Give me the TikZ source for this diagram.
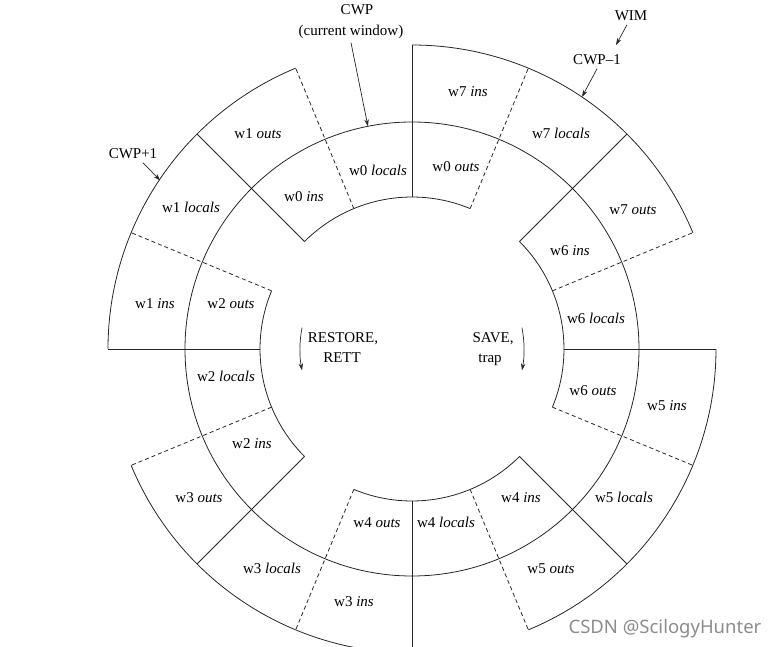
\documentclass[tikz,border=0pt]{standalone}
\usepackage{fontspec}
\setmainfont{Liberation Serif}
\newfontfamily\wmfont{Noto Sans}
\usetikzlibrary{arrows.meta}
\tikzset{
  ring/.style={line width=0.8pt, draw=black!85},
  sep/.style={line width=0.8pt, draw=black!85},
  dsep/.style={line width=0.8pt, draw=black!85, dash pattern=on 4pt off 3pt},
  lbl/.style={anchor=base, inner sep=0pt, font=\fontsize{15}{18}\selectfont},
  tag/.style={anchor=base, font=\fontsize{15}{18}\selectfont},
  arr/.style={line width=0.7pt, draw=black!85, -{Stealth[length=7pt,width=4.5pt]}}
}
\begin{document}
\begin{tikzpicture}[x=1pt,y=1pt]
\useasboundingbox (-412,-297) rectangle (365,349);
\begin{scope}
\clip (-412,-297) rectangle (365,349);
% middle circle
\draw[ring] (0,0) circle[radius=227pt];
% inner arcs
\foreach \a in {67.5,157.5,247.5,337.5}
  \draw[ring] (\a:152pt) arc[start angle=\a, end angle=\a+67.5, radius=152pt];
% outer arcs
\foreach \a in {22.5,112.5,202.5,292.5}
  \draw[ring] (\a:304pt) arc[start angle=\a, end angle=\a+67.5, radius=304pt];
% radial separators
\foreach \a in {0,45,...,315}
  \draw[sep] (\a:152pt) -- (\a:304pt);
\foreach \a in {22.5,67.5,...,337.5}
  \draw[dsep] (\a:152pt) -- (\a:304pt);
\end{scope}

% cell labels
\node[lbl] (w1o) at (-154,211) {w1 \textit{outs}};
\node[lbl] (w0l) at (-34,173) {w0 \textit{locals}};
\node[lbl] (w0i) at (-108,147) {w0 \textit{ins}};
\node[lbl] (w7i) at (56,252) {w7 \textit{ins}};
\node[lbl] (w7l) at (149,210) {w7 \textit{locals}};
\node[lbl] (w0o) at (44,178) {w0 \textit{outs}};
\node[lbl] (w7o) at (221,135) {w7 \textit{outs}};
\node[lbl] (w6i) at (158,94) {w6 \textit{ins}};
\node[lbl] (w1l) at (-221,136) {w1 \textit{locals}};
\node[lbl] (w1i) at (-257,41) {w1 \textit{ins}};
\node[lbl] (w2o) at (-181,41) {w2 \textit{outs}};
\node[lbl] (w6l) at (184,26) {w6 \textit{locals}};
\node[lbl] (w2l) at (-186,-32) {w2 \textit{locals}};
\node[lbl] (w6o) at (181,-46) {w6 \textit{outs}};
\node[lbl] (w5i) at (255,-61) {w5 \textit{ins}};
\node[lbl] (w2i) at (-160,-99) {w2 \textit{ins}};
\node[lbl] (w3o) at (-213,-153) {w3 \textit{outs}};
\node[lbl] (w5l) at (212,-153) {w5 \textit{locals}};
\node[lbl] (w4i) at (109,-153) {w4 \textit{ins}};
\node[lbl] (w4o) at (-35,-178) {w4 \textit{outs}};
\node[lbl] (w4l) at (34,-178) {w4 \textit{locals}};
\node[lbl] (w3l) at (-140,-224) {w3 \textit{locals}};
\node[lbl] (w5o) at (139,-224) {w5 \textit{outs}};
\node[lbl] (w3i) at (-58,-257) {w3 \textit{ins}};

% pointer labels
\node[tag] (cwp) at (-55,334) {CWP};
\node[tag] (curwin) at (-61,313) {(current window)};
\node[tag] (wim) at (219,328) {WIM};
\node[tag] (cwpm1) at (185,284) {CWP--1};
\node[tag] (cwpp1) at (-279,190) {CWP+1};
\node[lbl] (restore) at (-69,7) {RESTORE,};
\node[lbl] (rett) at (-70,-13) {RETT};
\node[lbl] (save) at (81,7) {SAVE,};
\node[lbl] (trap) at (78,-13) {trap};

\coordinate (cwptip) at (101.2:227pt);
\coordinate (cwpp1tip) at (146.2:303pt);
\coordinate (cwpm1tip) at (56:304pt);
\coordinate (wimtip) at (204,304);
\draw[arr] (curwin.south) -- (cwptip);
\draw[arr] ([xshift=10pt]cwpp1.south) -- (cwpp1tip);
\draw[arr] (cwpm1.south) -- (cwpm1tip);
\draw[arr] ([xshift=-4pt]wim.south) -- (wimtip);

\coordinate (rs) at (169:112pt);
\coordinate (ss) at (11:112pt);
\draw[arr] (rs) arc[start angle=169, end angle=191, radius=112pt];
\draw[arr] (ss) arc[start angle=11, end angle=-11, radius=112pt];

\node[anchor=base, text=black!45, font=\wmfont\fontsize{18.5}{22}\selectfont] (wm) at (253,-284) {CSDN @ScilogyHunter};
\end{tikzpicture}
\end{document}
